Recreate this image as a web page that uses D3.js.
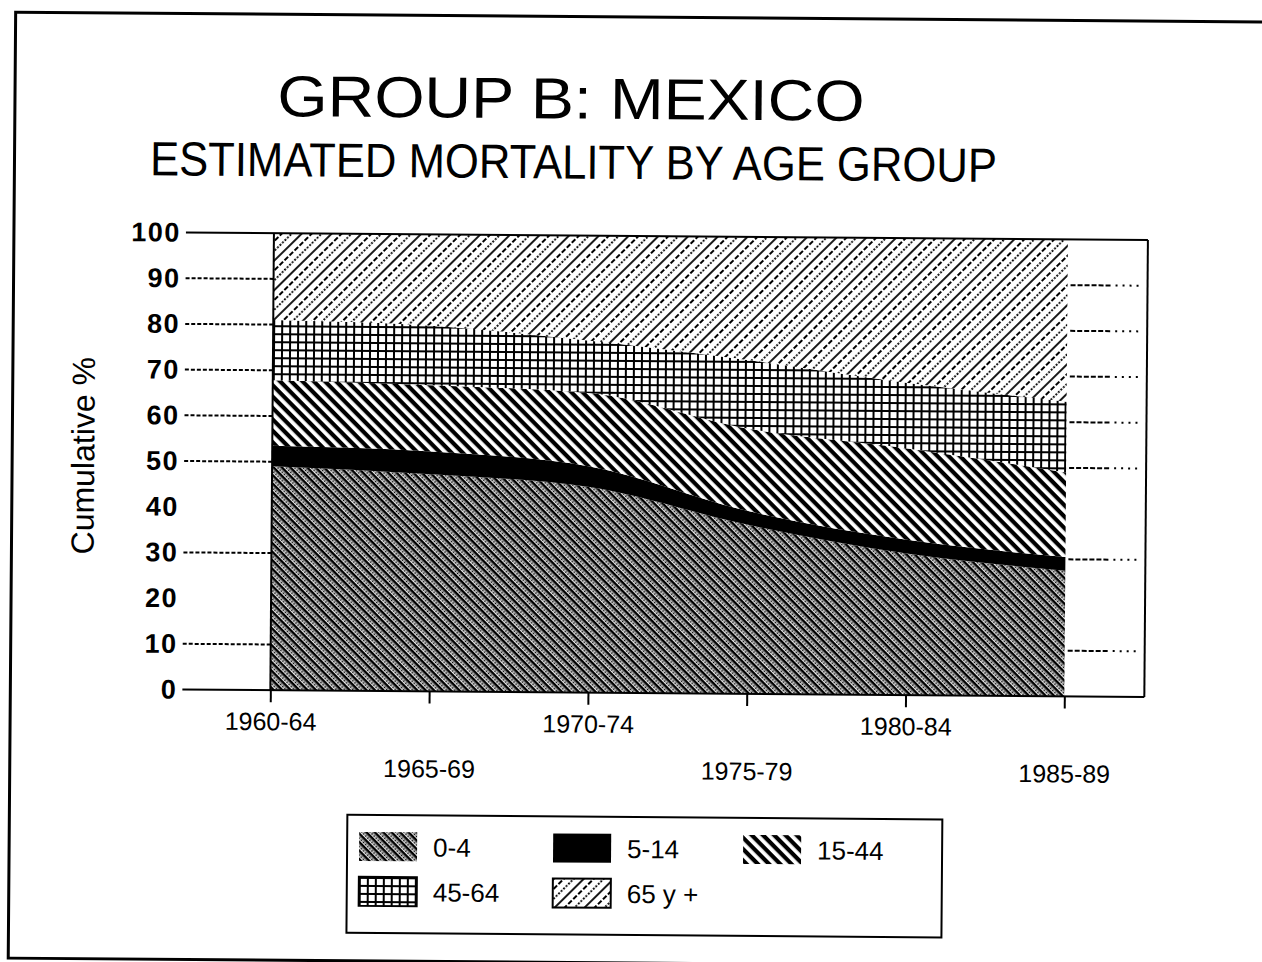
<!DOCTYPE html>
<html>
<head>
<meta charset="utf-8">
<script src="https://cdn.jsdelivr.net/npm/d3@7"></script>
<style>
  body { margin: 0; background: #fff; }
  svg { display: block; }
  text { font-family: "Liberation Sans", Arial, Helvetica, sans-serif; fill: #000; }
</style>
</head>
<body>
<svg id="chart" width="1262" height="962"></svg>
<script>
// periods on the x axis
let periods = ["1960-64", "1965-69", "1970-74", "1975-79", "1980-84", "1985-89"];
let groups = ["0-4", "5-14", "15-44", "45-64", "65 y +"];
// share of deaths (%) for each age group, per period
let age0to4 = [49, 47.5, 45, 37, 31, 27.5];
let age5to14 = [4.5, 5, 4.5, 3, 3, 3];
let age15to44 = [14.3, 14.5, 16, 18, 20, 18.5];
let age45to64 = [13.2, 13, 11.5, 15, 14.3, 15.5];
let age65plus = [19, 20, 23, 27, 31.7, 35.5];
let yTicks = [0, 10, 20, 30, 40, 50, 60, 70, 80, 90, 100];
let gridTicks = [10, 30, 50, 60, 70, 80, 90];

let series = [age0to4, age5to14, age15to44, age45to64, age65plus];
let rows = periods.map(function (p, i) {
  let r = { period: p };
  groups.forEach(function (g, j) { r[g] = series[j][i]; });
  return r;
});

let svg = d3.select("#chart");
let defs = svg.append("defs");

// fill patterns, black on white like the printed chart
let p0 = defs.append("pattern").attr("id", "pat0").attr("patternUnits", "userSpaceOnUse")
  .attr("width", 6).attr("height", 6).attr("patternTransform", "rotate(45)");
p0.append("rect").attr("width", 6).attr("height", 6).attr("fill", "#fff");
p0.append("rect").attr("width", 6).attr("height", 2.6).attr("fill", "#000");
p0.append("rect").attr("x", 0.6).attr("y", 3.4).attr("width", 1.8).attr("height", 1.8).attr("fill", "#000");
p0.append("rect").attr("x", 3.6).attr("y", 3.4).attr("width", 1.8).attr("height", 1.8).attr("fill", "#000");

let p2 = defs.append("pattern").attr("id", "pat2").attr("patternUnits", "userSpaceOnUse")
  .attr("width", 8).attr("height", 8).attr("patternTransform", "rotate(45)");
p2.append("rect").attr("width", 8).attr("height", 8).attr("fill", "#fff");
p2.append("rect").attr("width", 8).attr("height", 4.2).attr("fill", "#000");

let p3 = defs.append("pattern").attr("id", "pat3").attr("patternUnits", "userSpaceOnUse")
  .attr("width", 8).attr("height", 8);
p3.append("rect").attr("width", 8).attr("height", 8).attr("fill", "#fff");
p3.append("rect").attr("width", 8).attr("height", 2).attr("fill", "#000");
p3.append("rect").attr("width", 2).attr("height", 8).attr("fill", "#000");

let p4 = defs.append("pattern").attr("id", "pat4").attr("patternUnits", "userSpaceOnUse")
  .attr("width", 21).attr("height", 21).attr("patternTransform", "rotate(-45)");
p4.append("rect").attr("width", 21).attr("height", 21).attr("fill", "#fff");
p4.append("line").attr("x1", 0).attr("x2", 21).attr("y1", 1).attr("y2", 1)
  .attr("stroke", "#000").attr("stroke-width", 1.8);
p4.append("line").attr("x1", 0).attr("x2", 21).attr("y1", 8).attr("y2", 8)
  .attr("stroke", "#000").attr("stroke-width", 1.8).attr("stroke-dasharray", "5,2");
p4.append("line").attr("x1", 0).attr("x2", 21).attr("y1", 15).attr("y2", 15)
  .attr("stroke", "#000").attr("stroke-width", 2).attr("stroke-dasharray", "1.8,1.7");

let fills = ["url(#pat0)", "#000", "url(#pat2)", "url(#pat3)", "url(#pat4)"];

// the scan is tilted a little, so the whole page is too
let page = svg.append("g").attr("transform", "rotate(0.45,631,481)");

page.append("rect").attr("x", 12).attr("y", 17).attr("width", 1320).attr("height", 946)
  .attr("fill", "none").attr("stroke", "#000").attr("stroke-width", 3);

page.append("text").attr("x", 568).attr("y", 119).attr("text-anchor", "middle")
  .attr("font-size", 58).attr("textLength", 587).attr("lengthAdjust", "spacingAndGlyphs")
  .text("GROUP B: MEXICO");
page.append("text").attr("x", 571).attr("y", 179).attr("text-anchor", "middle")
  .attr("font-size", 48).attr("textLength", 847).attr("lengthAdjust", "spacingAndGlyphs")
  .text("ESTIMATED MORTALITY BY AGE GROUP");

let plotLeft = 272, plotRight = 1066, frameRight = 1146, plotTop = 236, plotBottom = 693;
let x = d3.scalePoint().domain(periods).range([plotLeft, plotRight]);
let y = d3.scaleLinear().domain([0, 100]).range([plotBottom, plotTop]);

let stacked = d3.stack().keys(groups)(rows);
let area = d3.area()
  .x(function (d) { return x(d.data.period); })
  .y0(function (d) { return y(d[0]); })
  .y1(function (d) { return y(d[1]); })
  .curve(d3.curveMonotoneX);

page.append("g").selectAll("path")
  .data(stacked)
  .enter()
  .append("path")
  .attr("d", area)
  .attr("fill", function (d, i) { return fills[i]; });

// grid lines: dashed left of the plot, dash then dots right of the areas
let grid = page.append("g");
grid.selectAll("line.gl").data(gridTicks).enter().append("line")
  .attr("x1", 184).attr("x2", plotLeft)
  .attr("y1", function (d) { return y(d); }).attr("y2", function (d) { return y(d); })
  .attr("stroke", "#000").attr("stroke-width", 2).attr("stroke-dasharray", "4,2");
grid.selectAll("line.gr").data(gridTicks).enter().append("line")
  .attr("x1", plotRight + 3).attr("x2", plotRight + 45)
  .attr("y1", function (d) { return y(d); }).attr("y2", function (d) { return y(d); })
  .attr("stroke", "#000").attr("stroke-width", 2).attr("stroke-dasharray", "5,2");
grid.selectAll("line.gd").data(gridTicks).enter().append("line")
  .attr("x1", plotRight + 48).attr("x2", frameRight - 4)
  .attr("y1", function (d) { return y(d); }).attr("y2", function (d) { return y(d); })
  .attr("stroke", "#000").attr("stroke-width", 2).attr("stroke-dasharray", "2,5");

// frame and axes
page.append("line").attr("x1", 184).attr("x2", frameRight).attr("y1", y(100)).attr("y2", y(100))
  .attr("stroke", "#000").attr("stroke-width", 2);
page.append("line").attr("x1", 184).attr("x2", frameRight).attr("y1", y(0)).attr("y2", y(0))
  .attr("stroke", "#000").attr("stroke-width", 2);
page.append("line").attr("x1", frameRight).attr("x2", frameRight).attr("y1", y(100)).attr("y2", y(0))
  .attr("stroke", "#000").attr("stroke-width", 2);
page.append("line").attr("x1", plotLeft).attr("x2", plotLeft).attr("y1", y(100)).attr("y2", y(0))
  .attr("stroke", "#000").attr("stroke-width", 2);

let yAxis = page.append("g").attr("transform", "translate(184,0)")
  .call(d3.axisLeft(y).tickValues(yTicks).tickSize(0).tickPadding(5));
yAxis.select(".domain").remove();
yAxis.selectAll("text").attr("font-size", 27).attr("font-weight", "bold")
  .attr("letter-spacing", 1.5).attr("font-family", "Liberation Sans, Arial, sans-serif");

let xAxis = page.append("g").attr("transform", "translate(0," + plotBottom + ")")
  .call(d3.axisBottom(x).tickSize(12));
xAxis.select(".domain").remove();
xAxis.selectAll("line").attr("stroke-width", 2);
xAxis.selectAll("text")
  .attr("font-size", 25).attr("font-family", "Liberation Sans, Arial, sans-serif")
  .attr("dy", 0)
  .attr("y", function (d, i) { return i % 2 === 0 ? 40 : 86; });

page.append("text")
  .attr("transform", "translate(94,460) rotate(-90)")
  .attr("text-anchor", "middle").attr("font-size", 32)
  .text("Cumulative %");

// legend
let legend = page.append("g");
legend.append("rect").attr("x", 350).attr("y", 817).attr("width", 595).attr("height", 118)
  .attr("fill", "#fff").attr("stroke", "#000").attr("stroke-width", 2);
let legX = [362, 556, 746];
let legY = [834, 879];
let items = legend.selectAll("g.item").data(groups).enter().append("g")
  .attr("transform", function (d, i) {
    return "translate(" + legX[i % 3] + "," + legY[Math.floor(i / 3)] + ")";
  });
items.append("rect").attr("width", 58).attr("height", 29)
  .attr("fill", function (d, i) { return fills[i]; })
  .attr("stroke", function (d, i) { return i >= 3 ? "#000" : "none"; })
  .attr("stroke-width", 2);
items.append("text").attr("x", 74).attr("y", 24).attr("font-size", 26).text(function (d) { return d; });
</script>
</body>
</html>
